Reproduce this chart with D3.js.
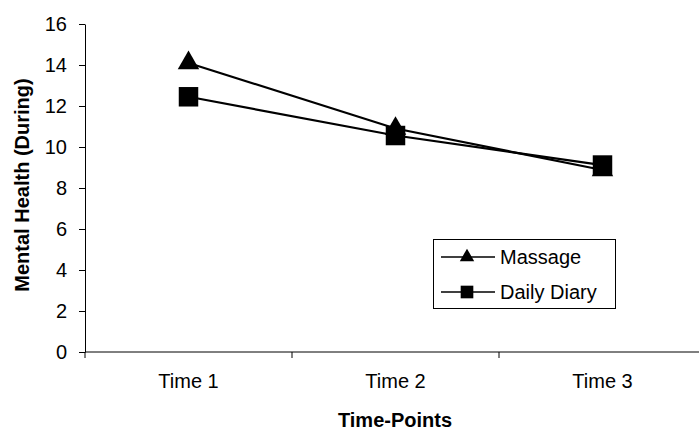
<!DOCTYPE html>
<html lang="en">
<head>
    <meta charset="UTF-8">
    <title>Mental Health (During)</title>
    <script src="https://d3js.org/d3.v7.min.js"></script>
    <style>
        body { margin: 0; background: #fff; }
        text { font-family: Arial, "Liberation Sans", sans-serif; fill: #000; }
    </style>
</head>
<body>
    <div id="chart"></div>

    <script>
        var categories = ["Time 1", "Time 2", "Time 3"];
        var massage = [14.1, 10.9, 8.88];
        var diary = [12.45, 10.56, 9.12];
        var yTicks = [0, 2, 4, 6, 8, 10, 12, 14, 16];
        var seriesNames = ["Massage", "Daily Diary"];

        var w = 699;
        var h = 432;
        var svg = d3.select("#chart").append("svg")
            .attr("width", w)
            .attr("height", h);

        var xScale = d3.scaleBand()
            .domain(categories)
            .range([85, 706]);

        var yScale = d3.scaleLinear()
            .domain([0, 16])
            .range([352, 24]);

        // y axis
        var yAxis = svg.append("g")
            .attr("transform", "translate(85,0)")
            .call(d3.axisLeft(yScale).tickValues(yTicks).tickSize(6).tickSizeOuter(0).tickPadding(12));

        // x axis, ticks on band edges
        var xAxis = svg.append("g")
            .attr("transform", "translate(0,352)");
        xAxis.append("line")
            .attr("x1", 85).attr("x2", 706)
            .attr("stroke", "#000");
        xAxis.selectAll(".edge")
            .data(categories)
            .enter()
            .append("line")
            .attr("x1", function(d) { return xScale(d); })
            .attr("x2", function(d) { return xScale(d); })
            .attr("y1", 0).attr("y2", 6)
            .attr("stroke", "#000");
        xAxis.selectAll(".lbl")
            .data(categories)
            .enter()
            .append("text")
            .attr("x", function(d) { return xScale(d) + xScale.bandwidth() / 2; })
            .attr("y", 36)
            .attr("text-anchor", "middle")
            .style("font-size", "20px")
            .text(function(d) { return d; });

        svg.selectAll(".domain").attr("stroke", "#000");
        svg.selectAll(".tick line").attr("stroke", "#000");
        yAxis.selectAll("text").style("font-size", "20px").style("font-family", "Arial, 'Liberation Sans', sans-serif");

        // axis titles
        svg.append("text")
            .attr("transform", "translate(29,185) rotate(-90)")
            .attr("text-anchor", "middle")
            .style("font-size", "20px")
            .style("font-weight", "bold")
            .text("Mental Health (During)");

        svg.append("text")
            .attr("x", 395)
            .attr("y", 427)
            .attr("text-anchor", "middle")
            .style("font-size", "20px")
            .style("font-weight", "bold")
            .text("Time-Points");

        var line = d3.line()
            .x(function(d, i) { return xScale(categories[i]) + xScale.bandwidth() / 2; })
            .y(function(d) { return yScale(d); });

        var triangle = d3.symbol().type(d3.symbolTriangle).size(200);
        var square = d3.symbol().type(d3.symbolSquare).size(380);

        var allSeries = [massage, diary];
        var shapes = [triangle, square];

        allSeries.forEach(function(vals, k) {
            svg.append("path")
                .datum(vals)
                .attr("d", line)
                .attr("fill", "none")
                .attr("stroke", "#000")
                .attr("stroke-width", 2.2);
        });

        allSeries.forEach(function(vals, k) {
            svg.selectAll(".m" + k)
                .data(vals)
                .enter()
                .append("path")
                .attr("d", shapes[k])
                .attr("transform", function(d, i) {
                    return "translate(" + (xScale(categories[i]) + xScale.bandwidth() / 2) + "," + yScale(d) + ")";
                })
                .attr("fill", "#000");
        });

        // legend
        var legend = svg.append("g");
        legend.append("rect")
            .attr("x", 433.5).attr("y", 239.5)
            .attr("width", 182).attr("height", 69)
            .attr("fill", "#fff")
            .attr("stroke", "#000");

        var legendSym = [d3.symbol().type(d3.symbolTriangle).size(90), d3.symbol().type(d3.symbolSquare).size(160)];
        seriesNames.forEach(function(name, k) {
            var cy = 257 + k * 35;
            legend.append("line")
                .attr("x1", 441).attr("x2", 495)
                .attr("y1", cy).attr("y2", cy)
                .attr("stroke", "#000").attr("stroke-width", 1.5);
            legend.append("path")
                .attr("d", legendSym[k])
                .attr("transform", "translate(467," + cy + ")")
                .attr("fill", "#000");
            legend.append("text")
                .attr("x", 500)
                .attr("y", cy)
                .attr("dy", "0.35em")
                .style("font-size", "20px")
                .text(name);
        });
    </script>
</body>
</html>
